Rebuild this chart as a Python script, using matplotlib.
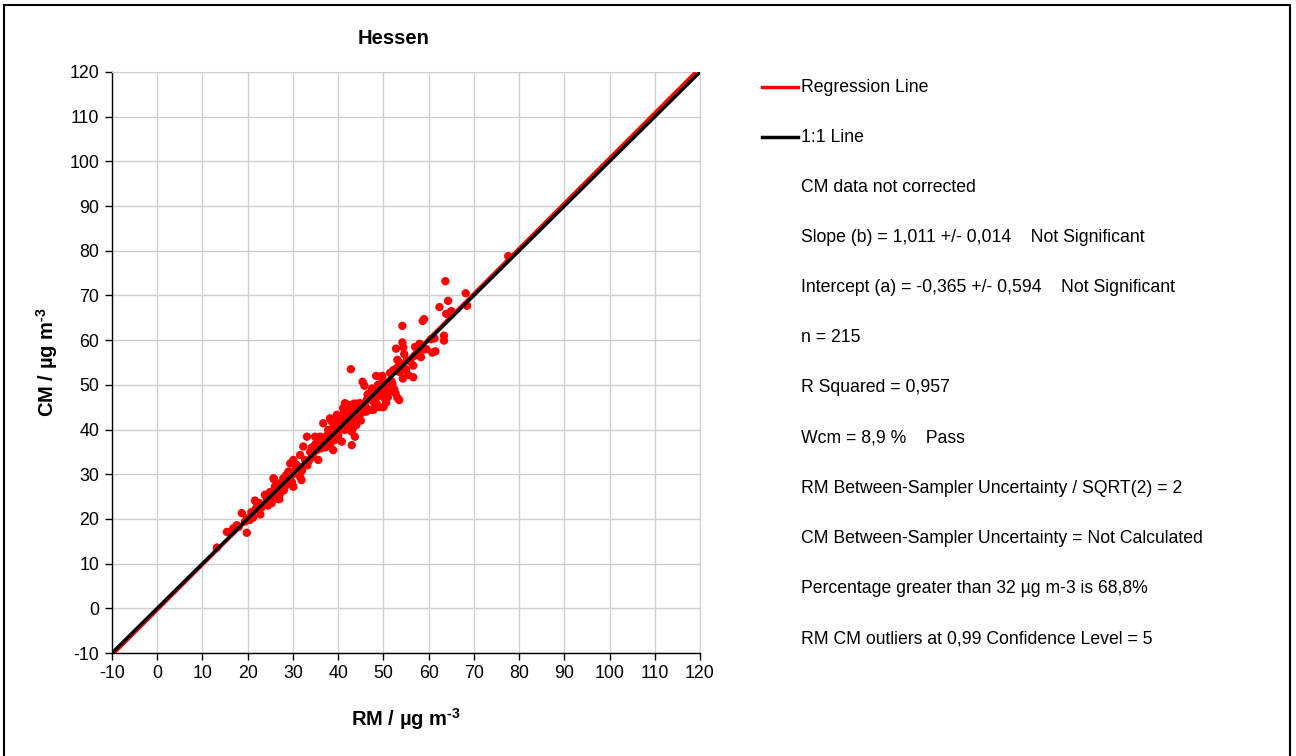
import numpy as np
import matplotlib
matplotlib.use("Agg")
import matplotlib.pyplot as plt
from matplotlib.lines import Line2D
from matplotlib.patches import Rectangle

plt.rcParams['font.family'] = ['Liberation Sans', 'DejaVu Sans']
plt.rcParams['mathtext.fontset'] = 'custom'
plt.rcParams['mathtext.rm'] = 'Liberation Sans:bold'
plt.rcParams['mathtext.bf'] = 'Liberation Sans:bold'
plt.rcParams['axes.unicode_minus'] = False

title = "Hessen"
slope = 1.011
intercept = -0.365

# paired measurements (RM, CM) in µg m-3
rm = [13.2, 15.4, 15.9, 16.8, 17.6, 18.0, 19.8, 18.7, 19.8, 19.4, 20.5, 20.9, 21.6, 22.0, 21.6, 22.5,
      23.8, 24.2, 25.3, 25.3, 26.4, 27.2, 26.0, 27.5, 25.8, 26.4, 28.6, 24.5, 23.0, 22.8, 20.8, 21.2,
      24.9, 26.8, 28.0, 27.0,
      25.7, 27.2, 28.6, 30.1, 26.0, 27.9, 29.4, 31.6, 31.9, 29.0, 30.5, 31.9, 29.4, 30.8, 30.1, 32.7,
      35.6, 34.5, 31.6, 33.8, 32.3, 35.3, 38.9, 38.2, 36.7, 43.0, 40.8, 37.1, 33.1, 34.9, 36.0, 37.8,
      36.7, 38.9, 38.2, 39.7, 30.0, 28.5, 32.0, 33.2, 34.0, 35.0, 36.2, 37.5, 38.0, 39.2, 40.0, 36.5,
      34.2,
      38.6, 40.4, 42.6, 43.4, 38.9, 39.7, 41.5, 43.0, 43.7, 39.7, 41.9, 43.7, 44.8, 41.5, 42.3, 41.1,
      43.0, 45.6, 47.0, 47.8, 50.0, 49.2, 44.8, 44.5, 46.3, 47.8, 48.0, 46.8, 50.4, 50.6, 53.5, 49.3,
      48.8, 45.8, 45.4, 48.4, 49.3, 42.8, 42.0, 42.5, 40.5, 41.0, 42.0, 44.0, 45.0, 43.0, 41.8, 44.2,
      46.0, 47.2, 48.5, 50.2, 51.0, 49.5, 47.5, 46.5, 40.0, 39.5, 42.2, 44.5, 43.5, 41.2,
      49.8, 50.0, 52.4, 52.7, 53.1, 51.5, 52.2, 53.5, 55.5, 56.6, 54.3, 53.9, 53.5, 53.1, 56.6, 56.9,
      57.4, 58.3, 54.6, 58.9, 60.8, 52.8, 54.4, 54.2, 54.2, 60.5, 61.3, 63.4, 63.4, 58.7, 59.0, 63.9,
      65.0, 62.4, 68.5, 64.3, 68.2, 63.7, 77.6, 55.0, 57.8, 53.0, 51.8,
      26.8, 29.8, 31.0, 33.5, 35.8, 37.2, 38.5, 40.2, 41.6, 42.8, 44.0, 45.2, 46.2, 48.0, 49.0, 50.5,
      51.5, 52.0, 54.0, 55.2, 56.0, 57.0, 58.0, 59.5, 61.5]
cm = [13.6, 17.1, 16.9, 17.9, 18.6, 18.2, 16.9, 21.3, 20.1, 19.4, 19.8, 20.9, 22.0, 22.7, 24.1, 23.6,
      25.4, 24.6, 25.0, 23.5, 24.6, 25.7, 26.1, 26.9, 28.9, 27.6, 28.7, 23.0, 22.5, 21.0, 21.5, 20.3,
      26.0, 25.2, 26.4, 24.4,
      29.1, 28.0, 27.6, 27.2, 27.2, 29.1, 29.4, 29.4, 28.7, 30.6, 30.9, 31.3, 32.4, 32.1, 33.2, 33.2,
      33.2, 33.9, 34.3, 35.0, 36.2, 35.4, 35.4, 36.5, 36.9, 36.5, 37.3, 37.7, 38.4, 38.4, 38.4, 39.9,
      41.4, 41.4, 42.5, 42.0, 30.0, 29.8, 30.8, 32.0, 34.8, 36.8, 35.8, 38.6, 38.0, 37.6, 38.6, 37.4,
      36.0,
      41.8, 41.4, 41.5, 40.5, 40.3, 39.5, 39.9, 39.5, 38.4, 43.3, 42.9, 42.5, 43.3, 45.9, 45.5, 44.8,
      44.5, 44.0, 44.4, 44.4, 45.0, 45.0, 45.9, 45.0, 46.6, 46.2, 47.3, 48.1, 46.8, 46.0, 46.6, 48.8,
      50.0, 49.8, 50.7, 52.0, 51.8, 53.5, 43.5, 44.0, 40.0, 41.0, 40.2, 41.0, 42.0, 43.2, 44.5, 45.8,
      45.2, 47.0, 45.8, 48.2, 47.2, 49.5, 49.2, 47.8, 40.8, 38.8, 42.0, 44.2, 45.8, 43.5,
      52.0, 50.5, 49.0, 48.1, 47.1, 52.7, 53.3, 52.9, 52.2, 51.7, 51.4, 54.4, 55.0, 55.6, 54.3, 56.5,
      56.8, 56.2, 56.9, 57.9, 57.2, 58.1, 58.4, 59.5, 63.2, 60.2, 60.4, 61.0, 59.9, 64.3, 64.7, 65.9,
      66.5, 67.4, 67.7, 68.8, 70.5, 73.2, 78.8, 53.5, 57.0, 53.8, 50.8,
      27.8, 28.2, 31.8, 33.0, 37.0, 36.0, 39.2, 42.2, 42.4, 42.8, 43.8, 44.6, 44.0, 46.0, 47.5, 49.8,
      48.5, 50.2, 53.2, 55.5, 55.2, 58.5, 59.2, 58.0, 57.5]

info_lines = [
    "CM data not corrected",
    "Slope (b) = 1,011 +/- 0,014    Not Significant",
    "Intercept (a) = -0,365 +/- 0,594    Not Significant",
    "n = 215",
    "R Squared = 0,957",
    "Wcm = 8,9 %    Pass",
    "RM Between-Sampler Uncertainty / SQRT(2) = 2",
    "CM Between-Sampler Uncertainty = Not Calculated",
    "Percentage greater than 32 µg m-3 is 68,8%",
    "RM CM outliers at 0,99 Confidence Level = 5",
]

W, H = 1296, 756
fig = plt.figure(figsize=(W / 100, H / 100), dpi=100)

def fx(px):
    return px / W

def fy(py):
    return 1 - py / H

# outer chart frame
fig.patches.append(Rectangle((fx(4), fy(770)), fx(1290) - fx(4), fy(5) - fy(770),
                             transform=fig.transFigure, fill=False, edgecolor='black', lw=1.5))

ax = fig.add_axes([fx(112), fy(653), fx(700) - fx(112), fy(72) - fy(653)])
ax.set_xlim(-10, 120)
ax.set_ylim(-10, 120)
ticks = np.arange(-10, 121, 10)
ax.set_xticks(ticks)
ax.set_yticks(ticks)
ax.grid(True, color='#d0d0d0', lw=1)
ax.set_axisbelow(True)
for s in ['top', 'right']:
    ax.spines[s].set_color('#d0d0d0')
for s in ['left', 'bottom']:
    ax.spines[s].set_color('black')
    ax.spines[s].set_linewidth(1)
ax.tick_params(direction='out', length=5, width=1, labelsize=12.8, pad=4)

ax.scatter(rm, cm, s=36, color='#ff0000', edgecolors='none', zorder=2)

xl = np.array([-10, 120])
ax.plot(xl, slope * xl + intercept, color='#ff0000', lw=2.5, zorder=3)
ax.plot(xl, xl, color='black', lw=2.5, zorder=4)

fig.text(fx(394), fy(38), title, fontsize=14.5, fontweight='bold', ha='center', va='center')
ax.set_xlabel(r'RM / µg m$^{\text{-3}}$', fontsize=14.5, fontweight='bold', labelpad=17)
ax.set_ylabel(r'CM / µg m$^{\text{-3}}$', fontsize=14.5, fontweight='bold', labelpad=7)

# legend entries and summary statistics
fig.lines.append(Line2D([fx(762), fx(798)], [fy(87), fy(87)], transform=fig.transFigure,
                        color='#ff0000', lw=2.5))
fig.text(fx(801), fy(87), "Regression Line", fontsize=12.7, va='center')
fig.lines.append(Line2D([fx(762), fx(798)], [fy(137), fy(137)], transform=fig.transFigure,
                        color='black', lw=2.5))
fig.text(fx(801), fy(137), "1:1 Line", fontsize=12.7, va='center')

for i, line in enumerate(info_lines):
    fig.text(fx(801), fy(187 + i * 50.2), line, fontsize=12.7, va='center')

fig.savefig("out.png", dpi=100)
